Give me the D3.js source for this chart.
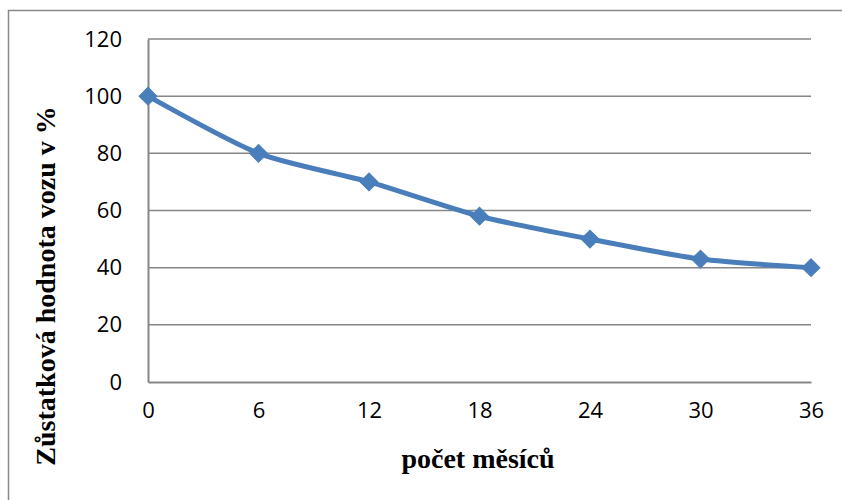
<!DOCTYPE html>
<html>
<head>
<meta charset="utf-8">
<script src="https://cdn.jsdelivr.net/npm/d3@7"></script>
<style>
  html, body { margin: 0; padding: 0; background: #fff; }
  svg { display: block; }
</style>
</head>
<body>
<svg id="chart" width="842" height="500"></svg>
<script>
// Residual value of a car over the months of ownership
const months = ["0", "6", "12", "18", "24", "30", "36"];
const residualValue = [100, 80, 70, 58, 50, 43, 40];
const yTicks = [0, 20, 40, 60, 80, 100, 120];
const xTitle = "počet měsíců";
const yTitle = "Zůstatková hodnota vozu v %";

const svg = d3.select("#chart");
const margin = { left: 148, right: 31, top: 39, bottom: 118 };
const W = 842, H = 500;

// outer chart frame
svg.append("rect")
  .attr("x", 8.5).attr("y", 10.5)
  .attr("width", 900).attr("height", 600)
  .attr("fill", "none").attr("stroke", "#888").attr("stroke-width", 1.5);

const x = d3.scalePoint().domain(months).range([margin.left, W - margin.right]);
const y = d3.scaleLinear().domain([0, 120]).range([H - margin.bottom, margin.top]);

// horizontal gridlines
svg.append("g")
  .selectAll("line")
  .data(yTicks.filter(d => d > 0))
  .join("line")
  .attr("x1", margin.left).attr("x2", W - margin.right)
  .attr("y1", d => y(d)).attr("y2", d => y(d))
  .attr("stroke", "#868686").attr("stroke-width", 1.5);

// y axis
const yAxis = svg.append("g")
  .attr("transform", `translate(${margin.left},0)`)
  .call(d3.axisLeft(y).tickValues(yTicks).tickSize(0).tickPadding(26));
yAxis.select(".domain").attr("stroke", "#868686").attr("stroke-width", 2);
yAxis.selectAll("text")
  .attr("font-family", "'Open Sans', sans-serif")
  .attr("font-size", 22).attr("fill", "#000");

// x axis
const xAxis = svg.append("g")
  .attr("transform", `translate(0,${y(0)})`)
  .call(d3.axisBottom(x).tickSize(0).tickPadding(20));
xAxis.select(".domain").attr("stroke", "#868686").attr("stroke-width", 2);
xAxis.selectAll("text")
  .attr("font-family", "'Open Sans', sans-serif")
  .attr("font-size", 22).attr("fill", "#000");

// data line
const line = d3.line()
  .x((d, i) => x(months[i]))
  .y(d => y(d))
  .curve(d3.curveCardinal.tension(0.3));

svg.append("path")
  .datum(residualValue)
  .attr("d", line)
  .attr("fill", "none")
  .attr("stroke", "#4a7ebb")
  .attr("stroke-width", 5)
  .attr("stroke-linejoin", "round");

// diamond markers
const diamond = d3.symbol().type(d3.symbolSquare).size(160);
svg.append("g")
  .selectAll("path")
  .data(residualValue)
  .join("path")
  .attr("d", diamond)
  .attr("transform", (d, i) => `translate(${x(months[i])},${y(d)}) rotate(45)`)
  .attr("fill", "#4a7ebb")
  .attr("stroke", "#4a7ebb").attr("stroke-width", 1);

// axis titles
svg.append("text")
  .attr("x", 478).attr("y", 468)
  .attr("text-anchor", "middle")
  .attr("font-family", "'Liberation Serif', 'Times New Roman', serif")
  .attr("font-weight", "bold").attr("font-size", 28)
  .text(xTitle);

svg.append("text")
  .attr("transform", "translate(55,286) rotate(-90)")
  .attr("text-anchor", "middle")
  .attr("font-family", "'Liberation Serif', 'Times New Roman', serif")
  .attr("font-weight", "bold").attr("font-size", 28)
  .text(yTitle);
</script>
</body>
</html>
